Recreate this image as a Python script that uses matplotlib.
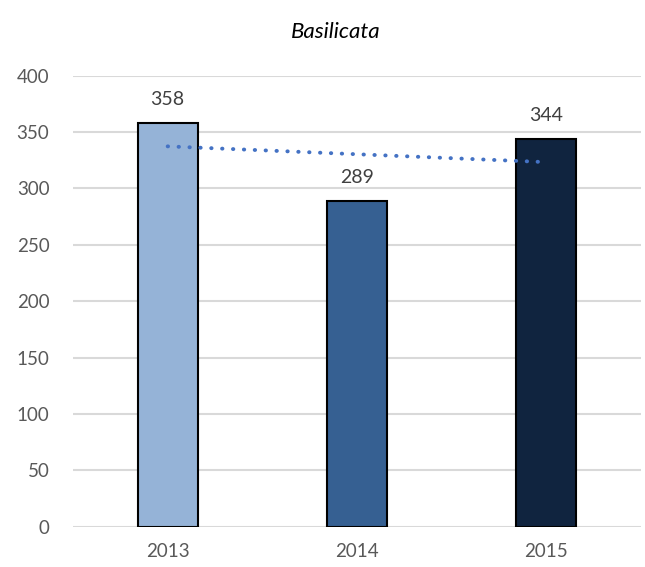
import numpy as np
import matplotlib
matplotlib.use("Agg")
import matplotlib.pyplot as plt

plt.rcParams['font.family'] = ['Lato', 'DejaVu Sans']

# values per year
years = ['2013', '2014', '2015']
values = [358, 289, 344]
bar_colors = ['#95B3D7', '#366092', '#10243F']
y_ticks = [0, 50, 100, 150, 200, 250, 300, 350, 400]

fig = plt.figure(figsize=(6.45, 5.67), dpi=100)
ax = fig.add_axes([0.1132, 0.0711, 0.8806, 0.7954])

x = np.arange(len(years))
ax.bar(x, values, width=0.317, color=bar_colors, edgecolor='black',
       linewidth=1.5, zorder=3)

# value labels above the bars
for xi, v in zip(x, values):
    ax.annotate(f"{v}", (xi, v), xytext=(0, 11), textcoords='offset points',
                ha='center', va='bottom', fontsize=14, color='#404040')

# linear trend
coef = np.polyfit(x, values, 1)
ax.plot(x, np.polyval(coef, x), linestyle=(0, (0.1, 2.7)), linewidth=2.8,
        dash_capstyle='round', color='#4472C4', zorder=4)

ax.set_xlim(-0.5, len(years) - 0.5)
ax.set_ylim(0, 400)
ax.set_yticks(y_ticks)
ax.set_xticks(x)
ax.set_xticklabels(years)
ax.tick_params(axis='both', length=0, labelsize=13.5, colors='#595959')
ax.tick_params(axis='y', pad=17)
ax.tick_params(axis='x', pad=12)
ax.grid(axis='y', color='#D9D9D9', linewidth=1.5, zorder=0)
for s in ax.spines.values():
    s.set_visible(False)

fig.text(0.52, 0.944, 'Basilicata', ha='center', va='center',
         fontsize=16, style='italic', color='black')

fig.savefig('out.png', dpi=100)
